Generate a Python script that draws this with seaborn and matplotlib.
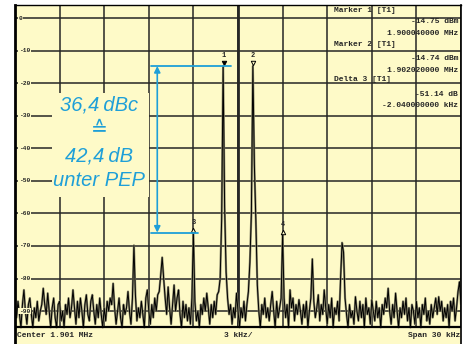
import numpy as np
import matplotlib
matplotlib.use("Agg")
import matplotlib.pyplot as plt
import seaborn as sns
from matplotlib.patches import Rectangle

# sweep: 301 points over 30 kHz span, centre 1.901 MHz (offset in kHz)
freq_khz = np.linspace(-15, 15, 301)
level_db = [
    -89, -92, -87, -91, -95, -88, -83.5, -90, -94, -88,
    -86, -91, -95, -89, -92, -87, -93, -90, -88, -83,
    -88, -91, -84.5, -90, -95, -89, -86, -92, -95, -88,
    -87, -93, -90, -95, -88, -91, -86, -92, -89, -83.5,
    -89, -94, -87, -92, -86, -90, -95, -88, -85, -91,
    -93, -87, -85, -90, -94, -88, -92, -86, -91, -95,
    -89, -93, -87, -90, -86, -88, -81.5, -89, -94, -90,
    -86, -92, -95, -88, -91, -89, -84, -90, -94, -86,
    -69.8, -85, -93, -89, -92, -87, -91, -95, -86, -83.5,
    -90, -94, -88, -92, -86, -90, -85, -84, -79, -73.5,
    -80, -86, -91, -82.6, -89, -94, -88, -82, -90, -86,
    -83.5, -91, -95, -87, -92, -88, -93, -89, -94, -86,
    -65.9, -87, -93, -90, -95, -88, -91, -86, -90, -84.5,
    -89, -94, -88, -92, -87, -91, -85, -84, -80, -62,
    -14.75, -58, -78, -86, -91, -88, -94, -89, -92, -84.5,
    -90, -95, -89, -92, -87, -93, -88, -84, -75, -60,
    -14.74, -45, -62, -82, -90, -95, -88, -91, -86, -92,
    -89, -93, -88, -84, -90, -95, -87, -92, -89, -86,
    -66.5, -86, -92, -88, -95, -83.5, -89, -86, -93, -88,
    -91, -86.5, -90, -94, -88, -92, -87, -95, -90, -86,
    -74, -87, -92, -89, -85, -93, -88, -91, -83.5, -89,
    -94, -88, -92, -86, -95, -89, -91, -87, -93, -80,
    -69, -72, -86, -91, -95, -88, -92, -90, -94, -85.6,
    -90, -93, -87, -92, -88, -95, -86, -91, -89, -94,
    -86.5, -90, -93, -87, -92, -89, -95, -88, -91, -86,
    -89, -83, -90, -94, -88, -92, -84.5, -90, -95, -89,
    -92, -87, -91, -86, -93, -89, -95, -88, -90, -94,
    -87, -92, -89, -95, -88, -91, -86, -93, -90, -94,
    -88, -92, -89, -86, -91, -85.6, -90, -87, -93, -89,
    -92, -88, -95, -87, -90, -86, -93, -89, -84, -81, -88,
]

marker_ids = ["1", "2", "3", "4"]
marker_freq = [-0.96, 1.02, -3.0, 3.0]
marker_level = [-14.75, -14.74, -65.89, -66.5]
marker_symbol = ["v", "v", "^", "^"]

x_ticks = np.arange(-15, 16, 3)
y_ticks = np.arange(-90, 1, 10)
y_labels = ["-90", "-80", "-70", "-60", "-50", "-40", "-30", "-20", "-10", "0"]

table_lines = [
    ("Marker 1 [T1]", "left"),
    ("-14.75 dBm", "right"),
    ("1.900040000 MHz", "right"),
    ("Marker 2 [T1]", "left"),
    ("-14.74 dBm", "right"),
    ("1.902020000 MHz", "right"),
    ("Delta 3 [T1]", "left"),
    ("-51.14 dB", "right"),
    ("-2.040000000 kHz", "right"),
]
table_y = [2.3, -1.2, -4.6, -8.0, -12.3, -16.0, -19.0, -23.6, -27.0]

note_lines = ["36,4\u2009dBc", "\u2259", "42,4\u2009dB", "unter PEP"]
note_y = [-26.7, -34.4, -42.4, -49.8]

bg = "#fefac8"
ink = "#262626"
blue = "#1e9fd8"
mono = ["Liberation Mono", "DejaVu Sans Mono"]

sns.set_style("white")
plt.rcParams["font.family"] = ["DejaVu Sans"]

fig = plt.figure(figsize=(4.69, 3.44), dpi=100)
fig.patch.set_facecolor("white")
ax = fig.add_axes([15 / 469, 0, 446 / 469, 339 / 344])
ax.set_facecolor(bg)
ax.set_xlim(-15, 15)
ax.set_ylim(-100.1, 4.0)

# graticule (kept out of the bottom text strip)
ax.vlines(x_ticks, -95, 4, color=ink, lw=1.1, zorder=1)
ax.vlines([0], -95, 4, color=ink, lw=2.0, zorder=1)
ax.hlines(y_ticks, -15, 15, color=ink, lw=1.1, zorder=1)
ax.axhline(-95, color="black", lw=1.6, zorder=4)

# trace: grey underlay + black on top gives the doubled look
sns.lineplot(x=freq_khz, y=level_db, ax=ax, color="#8c8a6e", lw=1.6,
             estimator=None, sort=False, zorder=2)
sns.lineplot(x=freq_khz, y=level_db, ax=ax, color="black", lw=0.7,
             estimator=None, sort=False, zorder=3)

# markers
for mid, mf, ml, ms in zip(marker_ids, marker_freq, marker_level, marker_symbol):
    ax.plot(mf, ml + 0.8, marker=ms, ms=3.2, color="black",
            mfc="black" if mid == "1" else bg, mew=0.7, zorder=5)
    ax.text(mf, ml + 3.2, mid, fontsize=5, ha="center", va="center",
            family=mono, weight="bold", zorder=5)

# y labels inside the left edge
for yv, lab in zip(y_ticks, y_labels):
    ax.text(-14.75, yv, lab, fontsize=4.5, ha="left", va="center", family=mono,
            weight="bold", color=ink, zorder=4,
            bbox=dict(facecolor=bg, edgecolor="none", pad=0.6))

# marker table
for (txt, side), ty in zip(table_lines, table_y):
    if side == "left":
        ax.text(6.44, ty, txt, fontsize=5.8, ha="left", va="center", family=mono,
                weight="bold", color=ink, zorder=4)
    else:
        ax.text(14.8, ty, txt, fontsize=5.8, ha="right", va="center", family=mono,
                weight="bold", color=ink, zorder=4)

# bottom strip
ax.text(-14.85, -97.4, "Center 1.901 MHz", fontsize=5.8, ha="left", va="center",
        family=mono, weight="bold", color=ink)
ax.text(0, -97.4, "3 kHz/", fontsize=5.8, ha="center", va="center",
        family=mono, weight="bold", color=ink)
ax.text(14.95, -97.4, "Span 30 kHz", fontsize=5.8, ha="right", va="center",
        family=mono, weight="bold", color=ink)

# annotation: carrier-to-IMD distance
ax.add_patch(Rectangle((-12.5, -55.0), 6.5, 32.0, facecolor=bg, edgecolor="none",
                       zorder=2.5))
for txt, ty in zip(note_lines, note_y):
    ax.text(-9.35, ty, txt, fontsize=14.5, style="italic", ha="center", va="center",
            color=blue, family=["Liberation Sans", "DejaVu Sans"], zorder=6)
ax.plot([-5.83, -0.5], [marker_level[0], marker_level[0]], color=blue, lw=1.3, zorder=6)
ax.plot([-5.83, -2.67], [marker_level[2], marker_level[2]], color=blue, lw=1.3, zorder=6)
ax.annotate("", xy=(-5.43, marker_level[2]), xytext=(-5.43, marker_level[0]),
            arrowprops=dict(arrowstyle="<|-|>", color=blue, lw=1.2,
                            mutation_scale=9, shrinkA=0, shrinkB=0), zorder=6)

ax.set_xticks([])
ax.set_yticks([])
ax.set_xlabel("")
ax.set_ylabel("")
for side in ["left", "top", "right"]:
    ax.spines[side].set_visible(True)
    ax.spines[side].set_color("black")
ax.spines["left"].set_linewidth(2.0)
ax.spines["top"].set_linewidth(1.0)
ax.spines["right"].set_linewidth(1.2)
ax.spines["bottom"].set_visible(False)

fig.savefig("out.png", dpi=100, facecolor="white")
